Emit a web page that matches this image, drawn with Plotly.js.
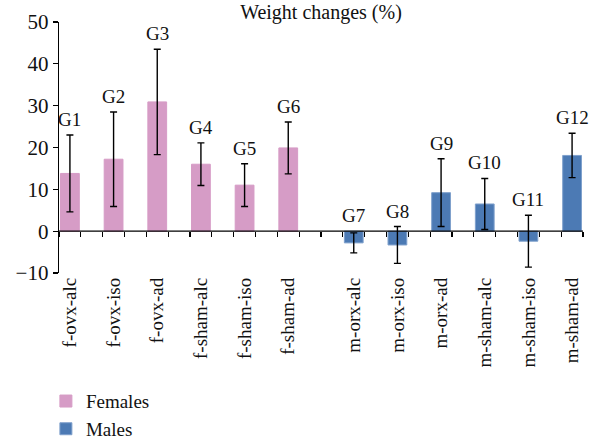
<!DOCTYPE html>
<html>
<head>
<meta charset="utf-8">
<script src="https://cdn.plot.ly/plotly-3.0.1.min.js"></script>
<style>
  html, body { margin: 0; padding: 0; background: #ffffff; }
  #chart { width: 597px; height: 440px; }
</style>
</head>
<body>
<div id="chart"></div>
<script>
// Weight change per group, mean and SD (%)
const femaleLabels = ["f-ovx-alc", "f-ovx-iso", "f-ovx-ad", "f-sham-alc", "f-sham-iso", "f-sham-ad"];
const femaleGroups = ["G1", "G2", "G3", "G4", "G5", "G6"];
const femaleMeans  = [13.8, 17.2, 30.9, 16.0, 11.0, 19.9];
const femaleSD     = [9.2, 11.3, 12.6, 5.1, 5.1, 6.2];

const maleLabels = ["m-orx-alc", "m-orx-iso", "m-orx-ad", "m-sham-alc", "m-sham-iso", "m-sham-ad"];
const maleGroups = ["G7", "G8", "G9", "G10", "G11", "G12"];
const maleMeans  = [-2.8, -3.3, 9.2, 6.5, -2.4, 18.1];
const maleSD     = [2.4, 4.4, 8.1, 6.1, 6.2, 5.3];

const yTicks = [-10, 0, 10, 20, 30, 40, 50];
const yTickText = ["\u221210", "0", "10", "20", "30", "40", "50"];

// Slot layout along the x axis: every slot is one tick interval wide
const femaleX = femaleMeans.map((_, i) => 0.5 + 2 * i);
const maleX = maleMeans.map((_, i) => 13.5 + 2 * i);
const slotTicks = Array.from({ length: 25 }, (_, i) => i);

const FONT = "Liberation Serif";
const PINK = "#d69cc6";
const BLUE = "#4c7ab4";

function barTrace(name, x, y, sd, color, line) {
  return {
    type: "bar", name: name, x: x, y: y, width: 0.86,
    marker: { color: color, line: { color: line, width: 1 } },
    error_y: { type: "data", array: sd, visible: true, color: "#000", thickness: 1.4, width: 3.5 },
    hoverinfo: "y"
  };
}

// Group tags sit just above the upper whisker (or above the baseline for negative bars)
function groupTags(x, y, sd, tags) {
  return tags.map((t, i) => ({
    text: t, x: x[i], y: Math.max(y[i] + sd[i], 0),
    xref: "x", yref: "y", showarrow: false,
    xanchor: "center", yanchor: "bottom", yshift: 3,
    font: { family: FONT, size: 19, color: "#111" }
  }));
}

const data = [
  barTrace("Females", femaleX, femaleMeans, femaleSD, PINK, PINK),
  barTrace("Males", maleX, maleMeans, maleSD, BLUE, "#7fa0cc"),
  // zero baseline carrying the slot tick marks
  {
    type: "scatter", mode: "lines", x: [0, 24], y: [0, 0], xaxis: "x2",
    line: { color: "#000", width: 1.4 }, showlegend: false, hoverinfo: "skip"
  }
];

const layout = {
  width: 597, height: 440,
  margin: { l: 59, r: 14, t: 22, b: 167, autoexpand: false },
  paper_bgcolor: "#fff", plot_bgcolor: "#fff",
  font: { family: FONT, size: 19, color: "#111" },
  title: {
    text: "Weight changes (%)", xref: "paper", x: 0.5, xanchor: "center",
    yref: "container", y: 0.988, yanchor: "top",
    font: { family: FONT, size: 20, color: "#111" }
  },
  showlegend: true,
  legend: {
    orientation: "v", traceorder: "normal",
    x: -0.025, xanchor: "left", y: -0.435, yanchor: "top",
    font: { family: FONT, size: 19, color: "#111" },
    itemwidth: 30, tracegroupgap: 0, bgcolor: "rgba(0,0,0,0)"
  },
  annotations: groupTags(femaleX, femaleMeans, femaleSD, femaleGroups)
    .concat(groupTags(maleX, maleMeans, maleSD, maleGroups)),
  xaxis: {
    range: [0, 24], showgrid: false, zeroline: false, showline: false,
    tickmode: "array",
    tickvals: femaleX.concat(maleX),
    ticktext: femaleLabels.concat(maleLabels),
    tickangle: -90, ticks: "", ticklabelstandoff: 0, automargin: false,
    tickfont: { family: FONT, size: 19, color: "#111" },
    fixedrange: true
  },
  xaxis2: {
    overlaying: "x", anchor: "free", position: 10 / 60,
    range: [0, 24], showgrid: false, zeroline: false, showline: false,
    tickmode: "array", tickvals: slotTicks, showticklabels: false,
    ticks: "outside", ticklen: 5, tickwidth: 1.2, tickcolor: "#000",
    fixedrange: true
  },
  yaxis: {
    range: [-10, 50], tickmode: "array", tickvals: yTicks, ticktext: yTickText,
    showgrid: false, zeroline: false, showline: true, linecolor: "#000", linewidth: 1.4,
    ticks: "outside", ticklen: 5, tickwidth: 1.2, tickcolor: "#000",
    tickfont: { family: FONT, size: 21, color: "#111" }, automargin: false,
    fixedrange: true
  },
  bargap: 0, barmode: "overlay"
};

Plotly.newPlot("chart", data, layout, { displayModeBar: false, staticPlot: true });
</script>
</body>
</html>
